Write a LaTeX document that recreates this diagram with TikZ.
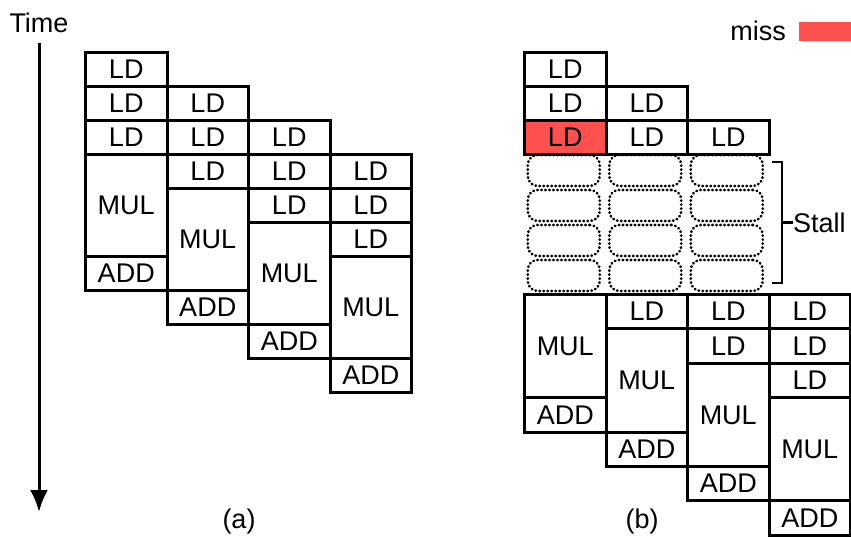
\documentclass[tikz,border=0pt]{standalone}
\usepackage{fontspec}
\setmainfont{Liberation Sans}
\usepackage{tikz}
\usetikzlibrary{calc,arrows.meta,positioning}
\definecolor{missred}{HTML}{FF5050}
\newcommand\optext{\fontsize{27}{32}\selectfont}

\begin{document}
\begin{tikzpicture}[x=1pt,y=-1pt]

\tikzset{opbox/.style={draw,line width=3pt,anchor=north west,inner sep=0pt,minimum width=81.5pt,font=\optext},
ldrow/.style={minimum height=34pt},
ldrowb/.style={minimum height=34.4pt},
stallbox/.style={draw,line width=2.8pt,line cap=round,dash pattern=on 0.4pt off 3.6pt,rounded corners=10pt,minimum width=72pt,minimum height=31pt,inner sep=0pt},
plain/.style={font=\optext,inner sep=0pt}}

\useasboundingbox (0,0) rectangle (851,536);

% Time axis
\node[plain] (timeLabel) at (39,23) {Time};
\coordinate (timeTop) at (39,43);
\coordinate (timeEnd) at (39,512);
\draw[line width=3pt,-{Latex[length=22pt,width=18pt]}] (timeTop) -- (timeEnd);

% (a) no miss
\foreach \c in {0,...,3}{
  \foreach \r in {0,1,2}
    \node[opbox,ldrow] (aLd\c\r) at ({84+81.5*\c},{51+34*(\c+\r)}) {LD};
  \node[opbox,minimum height=102pt] (aMul\c) at ({84+81.5*\c},{51+34*(\c+3)}) {MUL};
  \node[opbox,ldrow] (aAdd\c) at ({84+81.5*\c},{51+34*(\c+6)}) {ADD};
}
\node[plain] (aCap) at (239,522) {(a)};

% (b) load miss
\foreach \c/\r in {0/0,0/1,1/1,1/2,2/2}
  \node[opbox,ldrow] (bLd\c\r) at ({523+81.5*\c},{51+34*\r}) {LD};
\node[opbox,ldrow,fill=missred] (bLd02) at (523,119) {LD};

% stalled slots
\foreach \c in {0,1,2}
  \foreach \s in {0,...,3}
    \node[stallbox] (bStall\c\s) at ({523+81.5*\c+40.75},{153+35*\s+17.5}) {};

% after the miss returns
\foreach \c/\k in {1/0,2/0,2/1,3/0,3/1,3/2}
  \node[opbox,ldrowb] (bLdLow\c\k) at ({523+81.5*\c},{293+34.4*\k}) {LD};
\foreach \c in {0,...,3}{
  \node[opbox,minimum height=103.2pt] (bMul\c) at ({523+81.5*\c},{293+34.4*\c}) {MUL};
  \node[opbox,ldrowb] (bAdd\c) at ({523+81.5*\c},{293+34.4*(\c+3)}) {ADD};
}
\node[plain] (bCap) at (642,522) {(b)};

% Stall bracket
\coordinate (brTop) at (782,162);
\coordinate (brBot) at (782,283);
\coordinate (brMid) at ($(brTop)!.5!(brBot)$);
\draw[line width=2.5pt] ($(brTop)+(-10,0)$) -- (brTop) -- (brBot) -- ($(brBot)+(-10,0)$);
\node[plain,anchor=west] (stallLabel) at ($(brMid)+(11,0)$) {Stall};
\draw[line width=2.5pt] (brMid) -- (stallLabel.west);

% Legend
\node[plain,anchor=base east] (missLabel) at (786,40) {miss};
\node[fill=missred,anchor=north west,minimum width=53pt,minimum height=19pt,inner sep=0pt] (missKey) at (799,22) {};

\end{tikzpicture}
\end{document}
